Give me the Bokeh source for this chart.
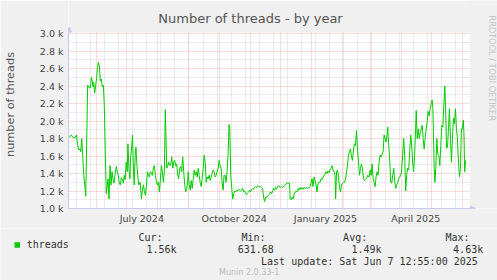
import pandas as pd
from math import pi
from bokeh.plotting import figure
from bokeh.layouts import column, row
from bokeh.models import (Range1d, FixedTicker, Label, Legend, LegendItem,
                          BoxAnnotation, Arrow, NormalHead)
from bokeh.embed import file_html
from bokeh.resources import INLINE

# ---------------- data ----------------
START = pd.Timestamp("2024-05-03 22:20")          # left edge of the graph area
END = pd.Timestamp("2025-06-06 15:50")            # right edge of the graph area

day_offsets = [
    0.7, 2.7, 4.7, 6.6, 7.9, 9.2, 10.2, 11.6, 12.2, 13.2, 14.2, 15.2, 16.2, 17.2,
    19.1, 20.5, 21.8, 22.8, 23.8, 24.5, 25.1, 26.1, 27.1, 28.1, 28.8, 29.8, 30.8,
    31.7, 32.7, 33.7, 34.7, 35.7, 36.7, 37.7, 38.7, 39.4, 40.4, 41.4, 42.4, 43.4,
    44.3, 45.3, 46.3, 47.6, 48.6, 49.6, 50.6, 51.6, 52.6, 53.6, 54.6, 55.6, 56.5,
    57.5, 58.5, 59.2, 60.2, 61.2, 61.8, 62.8, 63.8, 64.8, 65.5, 66.5, 67.2, 68.2,
    69.1, 70.1, 71.4, 72.7, 73.7, 74.7, 75.7, 76.7, 77.7, 78.7, 79.7, 80.6, 81.6,
    82.6, 83.6, 84.6, 85.6, 86.6, 87.6, 88.6, 89.6, 90.6, 91.6, 92.6, 93.5, 94.5,
    95.5, 96.5, 97.9, 98.9, 99.9, 100.9, 101.9, 102.9, 103.9, 104.9, 105.8, 106.8,
    107.8, 108.8, 109.8, 110.8, 111.8, 112.8, 113.8, 114.8, 115.8, 116.8, 117.8,
    118.7, 119.3, 120.3, 121.3, 122.3, 123.3, 124.3, 125.3, 126.3, 127.3, 128.3,
    129.3, 130.2, 131.2, 132.2, 133.2, 134.2, 135.2, 136.2, 137.2, 138.2, 139.2,
    140.2, 141.2, 142.2, 143.1, 144.1, 145.1, 146.1, 147.1, 148.1, 149.1, 150.1,
    151.1, 152.1, 153.1, 154.1, 155.0, 156.0, 157.0, 158.0, 159.0, 160.0, 160.7,
    161.7, 162.7, 163.7, 164.7, 165.7, 166.7, 167.6, 168.6, 169.6, 170.6, 171.6,
    172.6, 173.6, 174.6, 175.6, 176.6, 177.6, 178.6, 179.6, 180.5, 181.5, 182.5,
    183.5, 184.5, 185.5, 186.5, 187.5, 188.5, 189.5, 190.5, 191.5, 192.4, 193.4,
    194.4, 195.4, 196.4, 197.7, 199.1, 200.4, 201.4, 202.4, 203.4, 204.4, 205.3,
    206.3, 207.3, 208.3, 209.6, 211.0, 212.3, 213.6, 215.0, 216.3, 217.5, 218.9,
    220.2, 220.9, 221.9, 222.9, 223.9, 224.9, 225.9, 226.9, 227.9, 228.9, 229.8,
    230.8, 231.8, 232.8, 233.8, 234.8, 235.8, 236.8, 237.8, 238.8, 239.8, 240.8,
    241.8, 242.7, 243.7, 244.7, 245.7, 246.7, 247.7, 248.7, 249.7, 250.7, 251.7,
    252.7, 253.7, 254.6, 255.6, 256.6, 257.6, 258.6, 259.6, 260.6, 261.6, 262.6,
    263.6, 264.6, 265.6, 266.2, 267.1, 268.1, 269.1, 270.1, 271.1, 272.1, 273.1,
    274.1, 275.1, 276.1, 277.1, 278.1, 279.0, 280.0, 281.0, 282.0, 283.0, 284.0,
    285.0, 286.0, 287.0, 288.0, 289.0, 290.0, 291.0, 291.9, 292.9, 293.9, 294.9,
    295.6, 296.9, 298.3, 299.6, 300.6, 301.6, 302.6, 303.6, 304.5, 305.5, 306.5,
    307.5, 308.5, 309.5, 310.5, 311.5, 312.5, 313.5, 314.5, 315.5, 316.4, 317.4,
    318.1, 319.1, 320.1, 321.1, 322.1, 323.1, 324.1, 325.1, 326.1, 327.1, 328.1,
    329.0, 330.0, 331.0, 332.0, 333.0, 334.0, 335.0, 336.0, 337.0, 338.0, 339.0,
    340.0, 341.0, 341.9, 342.9, 343.9, 344.9, 345.9, 346.5, 347.5, 348.5, 349.5,
    350.5, 351.5, 352.5, 353.4, 354.4, 355.4, 356.4, 357.4, 358.4, 359.4, 360.4,
    361.4, 362.4, 363.1, 363.8, 364.4, 365.1, 366.0, 367.0, 368.0, 369.0, 370.0,
    371.0, 372.0, 373.0, 374.0, 375.0, 376.0, 376.7, 377.7, 378.6, 379.6, 380.6,
    381.6, 382.6, 383.6, 384.6, 385.6, 386.6, 387.6, 388.6, 389.6, 390.6, 391.5,
    392.5, 393.5, 394.1, 394.8, 395.5, 396.1,
]

threads = [
    1810, 1840, 1810, 1810, 1840, 1720, 1670, 1680, 1650, 1800, 1590, 1380, 1270, 1140,
    2410, 2380, 2380, 2500, 2450, 2390, 2440, 2320, 2410, 2500, 2600, 2670, 2620,
    2460, 2480, 2390, 2410, 2180, 1610, 1170, 1270, 1340, 1110, 1490, 1270, 1420,
    1340, 1290, 1380, 1480, 1420, 1380, 1290, 1270, 1350, 1340, 1290, 1380, 1330,
    1530, 1420, 1740, 1460, 1340, 1570, 1680, 1840, 1420, 1270, 1610, 1700, 1490,
    1360, 1270, 1300, 1110, 1210, 1270, 1190, 1150, 1270, 1420, 1380, 1360, 1420,
    1410, 1380, 1470, 1490, 1380, 1300, 1270, 1300, 1190, 1340, 1490, 1420, 1300,
    1420, 2130, 1460, 1490, 1530, 1490, 1510, 1590, 1460, 1530, 1550, 1490,
    1510, 1380, 1340, 1460, 1480, 1420, 1590, 1420, 1270, 1190, 1230,
    1300, 1420, 1270, 1210, 1320, 1230, 1340, 1440, 1380, 1420, 1360,
    1460, 1380, 1300, 1250, 1340, 1460, 1610, 1530, 1300, 1360, 1340,
    1380, 1320, 1360, 1400, 1440, 1420, 1360, 1380, 1420, 1460, 1550,
    1490, 1460, 1290, 1210, 1380, 1380, 1300, 1420, 1610, 1960, 1910,
    1380, 1230, 1110, 1170, 1200, 1190, 1210, 1200, 1220, 1210, 1200,
    1210, 1230, 1190, 1200, 1170, 1160, 1180, 1190, 1210, 1190, 1220,
    1230, 1220, 1240, 1250, 1240, 1260, 1250, 1250, 1250, 1240, 1230,
    1130, 1080, 1130, 1130, 1150, 1170, 1190, 1170, 1200, 1230, 1210,
    1240, 1220, 1250, 1260, 1240, 1250, 1240, 1260, 1270, 1290, 1290,
    1290, 1110, 1100, 1130, 1110, 1170, 1180, 1200, 1190, 1230, 1210,
    1240, 1220, 1240, 1220, 1240, 1230, 1240, 1230, 1240, 1240, 1250,
    1300, 1340, 1250, 1360, 1320, 1270, 1190, 1290, 1300, 1300, 1340,
    1330, 1360, 1380, 1390, 1420, 1400, 1430, 1410, 1440, 1460, 1490,
    1440, 1420, 1380, 1110, 1420, 1440, 1360, 1230, 1190, 1270, 1290,
    1300, 1300, 1340, 1420, 1510, 1610, 1650, 1680, 1590, 1550, 1680,
    1740, 1720, 1890, 1680, 1530, 1380, 1460, 1510, 1460, 1340, 1320,
    1330, 1340, 1380, 1360, 1440, 1380, 1510, 1340, 1300, 1250, 1360,
    1420, 1380, 1530, 1610, 1590, 1620, 1650, 1840, 1800, 1760, 1840,
    1930, 1720, 1550, 1300, 1290, 1380, 1460, 1300, 1230, 1270, 1300,
    1340, 1360, 1380, 1440, 1610, 1800, 1610, 1200, 1380, 1460, 1440,
    1650, 1840, 1740, 1530, 1420, 1610, 1910, 2120, 1800, 1910, 1800,
    1870, 1910, 1950, 1800, 1680, 1800, 1910, 1990, 2110, 2060, 2140,
    2200, 2240, 2140, 1800, 1460, 1300, 1460, 1800, 1620, 1610, 1490,
    1720, 1950, 1930, 2180, 2400, 2060, 1690, 1700, 1910, 2140, 1800,
    1530, 1800, 2030, 1970, 2140, 1910, 1800, 1530, 1360, 1460, 1910,
    1910, 2010, 1840, 1420, 1530, 1550,
]

Y_MIN, Y_MAX = 1000, 3000
y_ticks = [1000, 1200, 1400, 1600, 1800, 2000, 2200, 2400, 2600, 2800, 3000]
y_tick_labels = ["1.0 k", "1.2 k", "1.4 k", "1.6 k", "1.8 k", "2.0 k",
                 "2.2 k", "2.4 k", "2.6 k", "2.8 k", "3.0 k"]
y_minor_ticks = [1100, 1300, 1500, 1700, 1900, 2100, 2300, 2500, 2700, 2900]

x_label_dates = ["2024-07-16", "2024-10-16", "2025-01-15", "2025-04-15"]
x_labels = ["July 2024", "October 2024", "January 2025", "April 2025"]

title_text = "Number of threads - by year"
y_title = "number of threads"
series_name = "threads"
stat_names = ["Cur:", "Min:", "Avg:", "Max:"]
stat_values = ["1.56k", "631.68", "1.49k", "4.63k"]
last_update = "Last update: Sat Jun  7 12:55:00 2025"
credit = "Munin 2.0.33-1"
side_note = "RRDTOOL / TOBI OETIKER"

# ---------------- layout constants (pixels) ----------------
W, H_MAIN, H_FOOT = 497, 228, 52
FL, FT, FR, FB = 66, 33, 468, 208      # graph area: left, top, right, bottom

BG = "#F0F0F0"
GREEN = "#00CC00"
AXIS = "#c8c8ee"
MGRID = "#f6b4b4"
GRID = "#d6d6d6"
TXT = "#444444"


def ms(t):
    return int(pd.Timestamp(t).value // 10**6)


x = START + pd.to_timedelta(day_offsets, unit="D")
month_starts = [ms(t) for t in pd.date_range("2024-06-01", "2025-06-01", freq="MS")]
biweekly = [ms(t) for t in pd.date_range("2024-05-12", "2025-06-06", freq="14D")]

# one pixel in data units; the frame also covers the title band and right strip
XPX = (ms(END) - ms(START)) / (FR - FL)
YPX = (Y_MAX - Y_MIN) / (FB - FT)

p = figure(width=W, height=H_MAIN, x_axis_type="datetime",
           x_range=Range1d(ms(START), ms(END) + (W - FR) * XPX),
           y_range=Range1d(Y_MIN, Y_MAX + FT * YPX),
           output_backend="svg", toolbar_location=None, title=None,
           min_border_left=FL, min_border_right=0, min_border_top=0,
           min_border_bottom=H_MAIN - FB)
p.background_fill_color = "white"
p.border_fill_color = BG
p.outline_line_color = None

p.xgrid.ticker = FixedTicker(ticks=month_starts, minor_ticks=biweekly)
p.ygrid.ticker = FixedTicker(ticks=y_ticks, minor_ticks=y_minor_ticks)
for g in (p.xgrid[0], p.ygrid[0]):
    g.grid_line_color = MGRID
    g.grid_line_dash = "1 1"
    g.minor_grid_line_color = GRID
    g.minor_grid_line_dash = "1 1"

for ax in (p.xaxis[0], p.yaxis[0]):
    ax.axis_line_color = AXIS
    ax.major_tick_line_color = None
    ax.minor_tick_line_color = None
    ax.major_tick_out = 0
    ax.major_tick_in = 0
    ax.major_label_text_font = "DejaVu Sans"
    ax.major_label_text_font_size = "9.5px"
    ax.major_label_text_color = TXT

label_ms = [ms(d) for d in x_label_dates]
p.xaxis.ticker = FixedTicker(ticks=label_ms)
p.xaxis.major_label_overrides = {k: v for k, v in zip(label_ms, x_labels)}
p.xaxis.major_label_standoff = 4
p.xaxis.bounds = (ms(START), ms(END) + 5 * XPX)

p.yaxis.ticker = FixedTicker(ticks=y_ticks)
p.yaxis.major_label_overrides = {k: v for k, v in zip(y_ticks, y_tick_labels)}
p.yaxis.major_label_standoff = 5
p.yaxis.bounds = (Y_MIN, Y_MAX + 5 * YPX)
p.yaxis.axis_label = y_title
p.yaxis.axis_label_text_font = "DejaVu Sans"
p.yaxis.axis_label_text_font_size = "11.3px"
p.yaxis.axis_label_text_font_style = "normal"
p.yaxis.axis_label_text_color = "#555555"
p.yaxis.axis_label_standoff = 20

p.line(x, threads, line_color=GREEN, line_width=1)

# grey bands outside the graph area (title band on top, strip on the right)
p.add_layout(BoxAnnotation(bottom=Y_MAX + 1 * YPX, fill_color=BG, fill_alpha=1,
                           line_color=None))
p.add_layout(BoxAnnotation(left=ms(END) + 1 * XPX, fill_color=BG, fill_alpha=1,
                           line_color=None))

# axis arrow heads
p.add_layout(Arrow(end=NormalHead(size=5, fill_color=AXIS, line_color=AXIS),
                   x_start=ms(START) + 0.5 * XPX, y_start=Y_MAX + 2 * YPX,
                   x_end=ms(START) + 0.5 * XPX, y_end=Y_MAX + 6.5 * YPX,
                   line_color=AXIS, line_width=1))
p.add_layout(Arrow(end=NormalHead(size=5, fill_color=AXIS, line_color=AXIS),
                   x_start=ms(END), y_start=Y_MIN,
                   x_end=ms(END) + 7 * XPX, y_end=Y_MIN,
                   line_color=AXIS, line_width=1))


def lab(fig, text, sx, sy, align="left", font="DejaVu Sans Mono", size="10px",
        color="#333333", baseline="alphabetic", angle=0, **kw):
    fig.add_layout(Label(x=sx, y=sy, text=text, text_align=align,
                         text_baseline=baseline, text_font=font,
                         text_font_size=size, text_color=color, angle=angle, **kw))


# title and side note, placed in screen pixels relative to the frame
lab(p, title_text, 248 - FL, FB - 17.6, align="center", font="DejaVu Sans",
    size="13px", color="#555555", x_units="screen", y_units="screen")
lab(p, side_note, 489 - FL, FB - 15, font="DejaVu Sans", size="8.2px",
    color="#c4c4c4", baseline="middle", angle=-pi / 2,
    x_units="screen", y_units="screen")

# ---------------- footer (legend) ----------------
foot = figure(width=W, height=H_FOOT, x_range=Range1d(0, W),
              y_range=Range1d(H_MAIN + H_FOOT, H_MAIN), x_axis_type=None,
              y_axis_type=None, output_backend="svg", toolbar_location=None,
              title=None, min_border=0)
foot.background_fill_color = BG
foot.border_fill_color = BG
foot.outline_line_color = None

foot.add_layout(BoxAnnotation(left=14, right=19.5, top=241.8, bottom=247.3,
                              fill_color=GREEN, fill_alpha=1, line_color=None))
swatch = foot.scatter(x=[], y=[], marker="square", fill_color=GREEN, line_color=GREEN)
legend = Legend(items=[LegendItem(label=series_name, renderers=[swatch])],
                location=(9.7, 280 - 251.5), padding=0, margin=0, spacing=0,
                glyph_width=14, glyph_height=14, label_height=14, label_width=10,
                label_standoff=3, border_line_color=None, background_fill_alpha=0,
                label_text_font="DejaVu Sans Mono", label_text_font_size="10px",
                label_text_color="#333333")
foot.add_layout(legend)

for name, val, nx, vx in zip(stat_names, stat_values,
                             [162, 265, 366.7, 469], [176, 273.3, 381, 482.7]):
    lab(foot, name, nx, 237.3, align="right")
    lab(foot, val, vx, 248.8, align="right")
lab(foot, last_update, 483.3, 260.6, align="right")
lab(foot, credit, 248.7, 271.9, align="center", font="DejaVu Sans",
    size="8px", color="#bbbbbb")

# each plot sits in its own row so that their frames are not aligned to each other
layout = column(row(p, spacing=0), row(foot, spacing=0), spacing=0)
open("out.html", "w").write(file_html(layout, INLINE))
